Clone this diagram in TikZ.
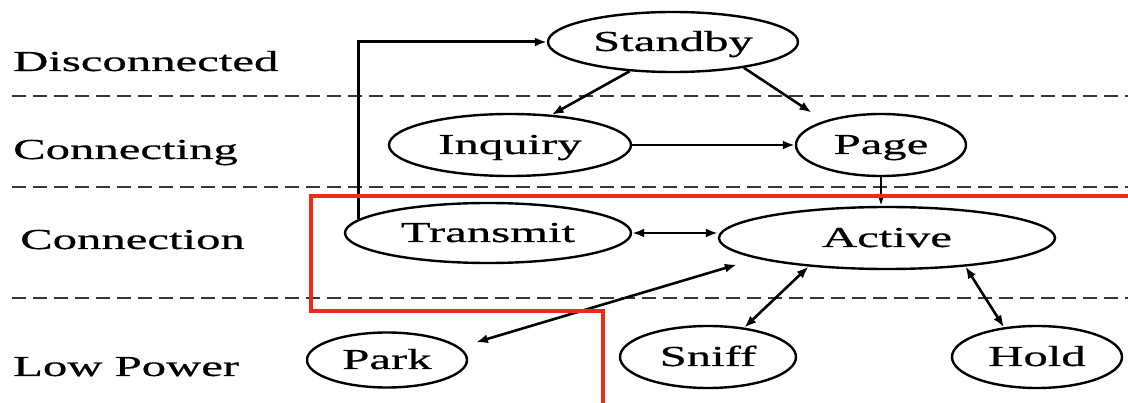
\documentclass[tikz,border=0pt]{standalone}
\usepackage{fontspec}
\setmainfont{Liberation Serif}
\newfontfamily\diagramfont[FakeBold=0.5]{Liberation Serif}
\usetikzlibrary{shapes.geometric,arrows.meta}
\definecolor{framered}{RGB}{238,42,26}
\definecolor{sepgray}{RGB}{55,55,55}
\newcommand\widetext[1]{\scalebox{1.68}[1]{#1}}
\begin{document}
\begin{tikzpicture}[x=1pt,y=-1pt,
  every node/.style={font=\diagramfont\fontsize{29}{34}\selectfont},
  stateshape/.style={ellipse, draw, line width=2.4pt, inner sep=0pt,
    text height=20pt, text depth=2pt},
  lane/.style={anchor=base west, inner sep=0pt},
  sep/.style={draw=sepgray, line width=1.6pt, dash pattern=on 14pt off 7pt},
  tip/.tip={Latex[length=12pt,width=9pt]},
  link/.style={line width=2.6pt, -tip},
  twoway/.style={line width=2.6pt, tip-tip},
  frame/.style={draw=framered, line width=3.2pt}
]
\useasboundingbox (0,0) rectangle (1128,403);

% layer separators
\draw[sep] (12,96) -- (1128,96);
\draw[sep] (12,187) -- (1128,187);
\draw[sep] (12,298) -- (1128,298);

% layer names
\node[lane] (disc) at (13,71)  {\widetext{Disconnected}};
\node[lane] (cing) at (13,159) {\widetext{Connecting}};
\node[lane] (cion) at (20,249) {\widetext{Connection}};
\node[lane] (lowp) at (13,376) {\widetext{Low Power}};

% states
\node[stateshape, minimum width=250pt, minimum height=60pt] (S) at (673,42)  {\widetext{Standby}};
\node[stateshape, minimum width=242pt, minimum height=62pt] (I) at (510,145) {\widetext{Inquiry}};
\node[stateshape, minimum width=170pt, minimum height=62pt] (P) at (881,145) {\widetext{Page}};
\node[stateshape, minimum width=286pt, minimum height=60pt] (T) at (488,233) {\widetext{Transmit}};
\node[stateshape, minimum width=336pt, minimum height=62pt] (A) at (887,238) {\widetext{Active}};
\node[stateshape, minimum width=160pt, minimum height=55pt] (park)  at (387,360)  {\widetext{Park}};
\node[stateshape, minimum width=176pt, minimum height=62pt] (sniff) at (708,357)  {\widetext{Sniff}};
\node[stateshape, minimum width=170pt, minimum height=62pt] (hold)  at (1037,357) {\widetext{Hold}};

% transitions
\draw[link, line width=3pt] (T.174.5) |- (S.west);
\draw[link] (S.214.6) -- (I.36.2);
\draw[link, shorten >=15pt] (S.340.4) -- (P.157.4);
\draw[link] (I.east) -- (P.west);
\draw[link] (P.south) -- (P.south |- A.north);
\draw[twoway] (T.east) -- (T.east -| A.west);
\draw[twoway, shorten <=17pt, shorten >=21pt] (park.10.9) -- (A.189.7);
\draw[twoway] (sniff.39) -- (A.200.6);
\draw[twoway] (hold.138.1) -- (A.340.6);

% highlighted region
\draw[frame] (1128,196) -- (311,196) -- (311,311) -- (603,311) -- (603,403);
\end{tikzpicture}
\end{document}
